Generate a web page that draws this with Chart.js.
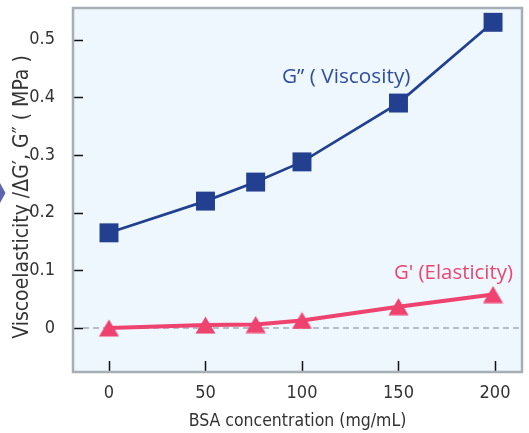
<!DOCTYPE html>
<html>
<head>
<meta charset="utf-8">
<script src="https://cdn.jsdelivr.net/npm/chart.js@4/dist/chart.umd.min.js"></script>
<style>
html,body{margin:0;padding:0;background:#fff}
canvas{display:block}
</style>
</head>
<body>
<canvas id="chart" width="529" height="433"></canvas>
<script>
// BSA concentration (mg/mL)
const bsa = [0, 50, 76, 100, 150, 199];
// G'' viscosity (MPa)
const viscosity = [0.165, 0.22, 0.253, 0.288, 0.39, 0.53];
// G' elasticity (MPa)
const elasticity = [0, 0.005, 0.006, 0.013, 0.037, 0.058];

const xTicks = [0, 50, 100, 150, 200];
const yTicks = [0, 0.1, 0.2, 0.3, 0.4, 0.5];

const blue = "#22408f";
const pink = "#ee426f";
const narrow = "'Liberation Sans Narrow','DejaVu Sans Condensed',sans-serif";

// triangle marker drawn centred on the point
function makeTriangle(){
  const c = document.createElement("canvas");
  c.width = 21; c.height = 18;
  const g = c.getContext("2d");
  g.fillStyle = pink;
  g.beginPath();
  g.moveTo(10.5, 0.5);
  g.lineTo(20.5, 17.5);
  g.lineTo(0.5, 17.5);
  g.closePath();
  g.fill();
  return c;
}

const frame = {
  id: "frame",
  beforeDraw(chart){
    const {ctx, chartArea: a} = chart;
    ctx.save();
    ctx.fillStyle = "#eef7fd";
    ctx.fillRect(a.left, a.top, a.right - a.left, a.bottom - a.top);
    ctx.restore();
  },
  beforeDatasetsDraw(chart){
    const {ctx, chartArea: a, scales} = chart;
    ctx.save();
    // zero line
    const y0 = scales.y.getPixelForValue(0);
    ctx.strokeStyle = "#a3abb2";
    ctx.lineWidth = 1.4;
    ctx.setLineDash([6, 4]);
    ctx.beginPath();
    ctx.moveTo(a.left + 10, y0);
    ctx.lineTo(a.right, y0);
    ctx.stroke();
    ctx.setLineDash([]);
    // inward tick marks
    ctx.strokeStyle = "#111";
    ctx.lineWidth = 1.5;
    ctx.beginPath();
    yTicks.forEach(v => {
      const y = Math.round(scales.y.getPixelForValue(v)) + 0.5;
      ctx.moveTo(a.left, y);
      ctx.lineTo(a.left + 10, y);
    });
    xTicks.forEach(v => {
      const x = Math.round(scales.x.getPixelForValue(v)) + 0.5;
      ctx.moveTo(x, a.bottom);
      ctx.lineTo(x, a.bottom - 11);
    });
    ctx.stroke();
    ctx.restore();
  },
  afterDraw(chart){
    const {ctx, chartArea: a} = chart;
    ctx.save();
    ctx.strokeStyle = "#a7aeb4";
    ctx.lineWidth = 2.5;
    ctx.strokeRect(a.left, a.top, a.right - a.left, a.bottom - a.top);

    ctx.textBaseline = "alphabetic";
    ctx.textAlign = "left";
    ctx.font = "20.8px 'Open Sans', sans-serif";
    ctx.fillStyle = "#2f4d9c";
    ctx.fillText("G\u201D ( Viscosity)", 282, 83);
    ctx.font = "20.4px 'Open Sans', sans-serif";
    ctx.fillStyle = "#ea4670";
    ctx.fillText("G' (Elasticity)", 394, 279);

    // axis title
    ctx.fillStyle = "#333";
    ctx.font = "21px " + narrow;
    ctx.textAlign = "center";
    ctx.textBaseline = "middle";
    ctx.translate(23, 197);
    ctx.rotate(-Math.PI / 2);
    ctx.fillText("Viscoelasticity /\u0394G\u2032, G\u2033 ( MPa )", 0, 0);
    ctx.setTransform(1, 0, 0, 1, 0, 0);

    // side marker
    ctx.fillStyle = "#5c63b0";
    ctx.beginPath();
    ctx.moveTo(0, 183);
    ctx.lineTo(5.5, 193);
    ctx.lineTo(0, 203);
    ctx.closePath();
    ctx.fill();
    ctx.restore();
  }
};

Chart.defaults.font.family = narrow;
Chart.defaults.color = "#333";

new Chart(document.getElementById("chart"), {
  type: "line",
  data: {
    datasets: [
      {
        label: "G' (Elasticity)",
        data: bsa.map((x, i) => ({x: x, y: elasticity[i]})),
        borderColor: pink,
        backgroundColor: pink,
        borderWidth: 4,
        pointStyle: makeTriangle(),
        pointRadius: 10,
        pointHoverRadius: 10
      },
      {
        label: "G'' (Viscosity)",
        data: bsa.map((x, i) => ({x: x, y: viscosity[i]})),
        borderColor: blue,
        backgroundColor: blue,
        borderWidth: 2.7,
        pointStyle: "rect",
        pointRadius: 13.4,
        pointHoverRadius: 13.4,
        pointBorderWidth: 0
      }
    ]
  },
  options: {
    responsive: false,
    animation: false,
    events: [],
    layout: {autoPadding: false, padding: {left: 0, top: 8, right: 7, bottom: 0}},
    plugins: {legend: {display: false}, tooltip: {enabled: false}},
    scales: {
      x: {
        type: "linear",
        min: -18.65,
        max: 214,
        afterBuildTicks: s => { s.ticks = xTicks.map(v => ({value: v})); },
        afterFit: s => { s.height = 61; s.paddingLeft = 0; s.paddingRight = 0; },
        grid: {display: false},
        border: {display: false},
        ticks: {padding: 3, font: {size: 18}, color: "#333"},
        title: {
          display: true,
          text: "BSA concentration (mg/mL)",
          font: {size: 17.5},
          color: "#333",
          padding: {top: 0, bottom: 1}
        }
      },
      y: {
        min: -0.0763,
        max: 0.5548,
        afterBuildTicks: s => { s.ticks = yTicks.map(v => ({value: v})); },
        afterFit: s => { s.width = 73; s.paddingTop = 0; s.paddingBottom = 0; },
        grid: {display: false},
        border: {display: false},
        ticks: {padding: 10, font: {size: 18}, color: "#333", callback: v => String(v)}
      }
    }
  },
  plugins: [frame]
});
</script>
</body>
</html>
